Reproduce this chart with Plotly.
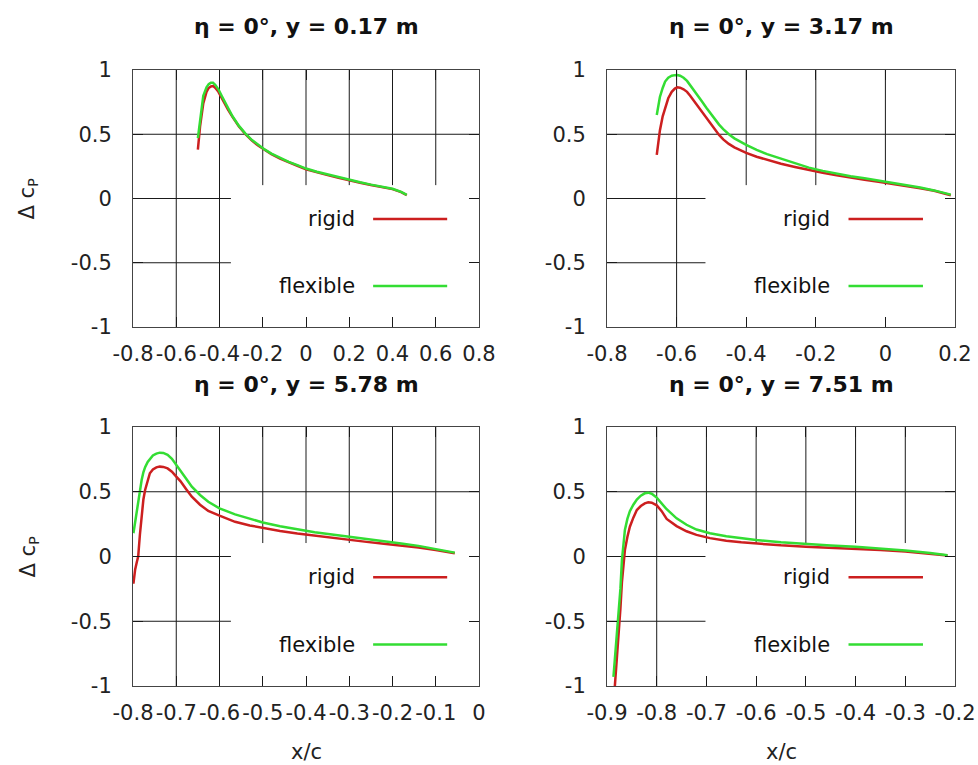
import plotly.graph_objects as go

# ---------------- data ----------------
titles = ["η = 0°, y = 0.17 m", "η = 0°, y = 3.17 m", "η = 0°, y = 5.78 m", "η = 0°, y = 7.51 m"]
series_names = ["rigid", "flexible"]

# panel 1 : y = 0.17 m
x_p1 = [-0.50, -0.49, -0.475, -0.46, -0.45, -0.44, -0.43, -0.42, -0.405, -0.39, -0.375, -0.36,
        -0.34, -0.31, -0.28, -0.25, -0.22, -0.19, -0.16, -0.12, -0.08, -0.04, 0.0, 0.05, 0.10,
        0.15, 0.20, 0.25, 0.30, 0.35, 0.40, 0.44, 0.466]
rigid_p1 = [0.38, 0.56, 0.74, 0.83, 0.86, 0.872, 0.875, 0.862, 0.83, 0.78, 0.735, 0.69,
            0.635, 0.56, 0.50, 0.45, 0.41, 0.375, 0.345, 0.31, 0.28, 0.255, 0.228, 0.203, 0.182,
            0.162, 0.14, 0.122, 0.105, 0.09, 0.073, 0.05, 0.027]
flexible_p1 = [0.47, 0.62, 0.80, 0.865, 0.89, 0.90, 0.90, 0.885, 0.85, 0.80, 0.75, 0.70,
               0.64, 0.565, 0.505, 0.455, 0.415, 0.38, 0.35, 0.315, 0.285, 0.26, 0.233, 0.208, 0.187,
               0.167, 0.144, 0.126, 0.108, 0.093, 0.076, 0.052, 0.028]

# panel 2 : y = 3.17 m
x_p2 = [-0.657, -0.648, -0.64, -0.633, -0.624, -0.614, -0.605, -0.598, -0.59, -0.58, -0.57,
        -0.561, -0.55, -0.54, -0.527, -0.514, -0.50, -0.49, -0.478, -0.466, -0.45, -0.434,
        -0.418, -0.40, -0.37, -0.34, -0.30, -0.26, -0.22, -0.18, -0.14, -0.10, -0.06, -0.02,
        0.02, 0.06, 0.10, 0.14, 0.17, 0.188]
rigid_p2 = [0.34, 0.53, 0.64, 0.71, 0.78, 0.83, 0.855, 0.865, 0.862, 0.85, 0.83,
            0.80, 0.76, 0.72, 0.67, 0.62, 0.57, 0.535, 0.495, 0.46, 0.425, 0.398,
            0.377, 0.355, 0.325, 0.30, 0.27, 0.245, 0.22, 0.20, 0.18, 0.16, 0.145, 0.13,
            0.115, 0.10, 0.08, 0.06, 0.04, 0.025]
flexible_p2 = [0.65, 0.79, 0.86, 0.91, 0.94, 0.955, 0.96, 0.961, 0.955, 0.94, 0.915,
               0.883, 0.845, 0.805, 0.755, 0.705, 0.655, 0.615, 0.575, 0.54, 0.50, 0.468,
               0.443, 0.418, 0.378, 0.345, 0.31, 0.275, 0.24, 0.215, 0.193, 0.173, 0.157, 0.14,
               0.123, 0.105, 0.085, 0.063, 0.045, 0.03]

# panel 3 : y = 5.78 m
x_p3 = [-0.799, -0.795, -0.791, -0.788, -0.784, -0.780, -0.776, -0.772, -0.766, -0.761, -0.754,
        -0.746, -0.738, -0.73, -0.72, -0.71, -0.703, -0.69, -0.677, -0.664, -0.645, -0.626,
        -0.60, -0.564, -0.53, -0.50, -0.46, -0.42, -0.38, -0.34, -0.30, -0.26, -0.22, -0.18,
        -0.14, -0.10, -0.075, -0.056]
rigid_p3 = [-0.21, -0.10, -0.04, 0.0, 0.17, 0.335, 0.44, 0.514, 0.59, 0.643, 0.672,
            0.688, 0.694, 0.692, 0.68, 0.655, 0.629, 0.58, 0.52, 0.462, 0.40, 0.352,
            0.315, 0.268, 0.24, 0.22, 0.197, 0.177, 0.16, 0.145, 0.128, 0.113, 0.099, 0.085,
            0.07, 0.05, 0.037, 0.025]
flexible_p3 = [0.18, 0.27, 0.35, 0.41, 0.50, 0.59, 0.65, 0.69, 0.73, 0.755, 0.78,
               0.795, 0.802, 0.80, 0.785, 0.755, 0.72, 0.66, 0.60, 0.539, 0.475, 0.423,
               0.372, 0.325, 0.29, 0.263, 0.233, 0.208, 0.187, 0.169, 0.153, 0.135, 0.117, 0.10,
               0.082, 0.06, 0.043, 0.03]

# panel 4 : y = 7.51 m
x_p4 = [-0.887, -0.884, -0.880, -0.877, -0.873, -0.870, -0.867, -0.864, -0.859, -0.854, -0.847,
        -0.840, -0.832, -0.824, -0.817, -0.81, -0.80, -0.79, -0.78, -0.76, -0.74, -0.72,
        -0.693, -0.66, -0.63, -0.60, -0.55, -0.50, -0.45, -0.40, -0.35, -0.30, -0.25, -0.215]
rigid_p4 = [-1.15, -1.0, -0.78, -0.6, -0.4, -0.2, -0.06, 0.05, 0.15, 0.23, 0.30,
            0.359, 0.39, 0.41, 0.418, 0.415, 0.395, 0.35, 0.29, 0.235, 0.195, 0.167,
            0.142, 0.122, 0.11, 0.10, 0.086, 0.076, 0.068, 0.062, 0.05, 0.038, 0.02, 0.007]
flexible_p4 = [-0.93, -0.78, -0.62, -0.465, -0.25, -0.03, 0.10, 0.205, 0.29, 0.35, 0.40,
               0.44, 0.47, 0.488, 0.493, 0.485, 0.455, 0.41, 0.365, 0.295, 0.245, 0.208,
               0.18, 0.156, 0.14, 0.127, 0.11, 0.095, 0.085, 0.076, 0.063, 0.047, 0.027, 0.01]

# axis ranges / ticks
x_ranges = [[-0.8, 0.8], [-0.8, 0.2], [-0.8, 0.0], [-0.9, -0.2]]
x_tickvals = [
    [-0.8, -0.6, -0.4, -0.2, 0.0, 0.2, 0.4, 0.6, 0.8],
    [-0.8, -0.6, -0.4, -0.2, 0.0, 0.2],
    [-0.8, -0.7, -0.6, -0.5, -0.4, -0.3, -0.2, -0.1, 0.0],
    [-0.9, -0.8, -0.7, -0.6, -0.5, -0.4, -0.3, -0.2],
]
x_ticktext = [
    ["-0.8", "-0.6", "-0.4", "-0.2", "0", "0.2", "0.4", "0.6", "0.8"],
    ["-0.8", "-0.6", "-0.4", "-0.2", "0", "0.2"],
    ["-0.8", "-0.7", "-0.6", "-0.5", "-0.4", "-0.3", "-0.2", "-0.1", "0"],
    ["-0.9", "-0.8", "-0.7", "-0.6", "-0.5", "-0.4", "-0.3", "-0.2"],
]
y_range = [-1, 1]
y_tickvals = [-1, -0.5, 0, 0.5, 1]
y_ticktext = ["-1", "-0.5", "0", "0.5", "1"]

y_label = "Δ c<sub>P</sub>"
x_label = "x/c"

# ---------------- styling ----------------
W, H = 978, 765
FONT = "DejaVu Sans"
TXT = "#222222"
RED = "#cc1f1f"
GREEN = "#33dd33"
GRID = "#1a1a1a"

# plot-area pixel boxes (left, right, top, bottom)
boxes = [(133, 479, 70, 327), (607, 955, 70, 327), (133, 479, 427, 686), (607, 955, 427, 686)]
# legend key box in axis-domain fractions (grid hidden behind it)
KEY_X0, KEY_X1, KEY_Y0, KEY_Y1 = 0.283, 0.966, 0.04, 0.552

xs = [x_p1, x_p2, x_p3, x_p4]
rigids = [rigid_p1, rigid_p2, rigid_p3, rigid_p4]
flexes = [flexible_p1, flexible_p2, flexible_p3, flexible_p4]

fig = go.Figure()
shapes = []
annotations = []

for i in range(4):
    n = "" if i == 0 else str(i + 1)
    xa, ya = "x" + n, "y" + n
    fig.add_trace(go.Scatter(x=xs[i], y=rigids[i], mode="lines", name=series_names[0],
                             line=dict(color=RED, width=2.5), xaxis=xa, yaxis=ya, showlegend=False))
    fig.add_trace(go.Scatter(x=xs[i], y=flexes[i], mode="lines", name=series_names[1],
                             line=dict(color=GREEN, width=2.5), xaxis=xa, yaxis=ya, showlegend=False))
    l, r, t, b = boxes[i]
    common = dict(showgrid=False, zeroline=False, automargin=False,
                  showline=True, linecolor="#444444", linewidth=1, mirror="allticks",
                  ticks="inside", ticklen=10, tickcolor=GRID, tickwidth=1,
                  tickfont=dict(family=FONT, size=21, color=TXT), tickangle=0)
    fig.layout["xaxis" + n] = dict(domain=[l / W, r / W], range=x_ranges[i], anchor=ya,
                                   tickmode="array", tickvals=x_tickvals[i], ticktext=x_ticktext[i],
                                   ticklabelstandoff=8, **common)
    fig.layout["yaxis" + n] = dict(domain=[1 - b / H, 1 - t / H], range=y_range, anchor=xa,
                                   tickmode="array", tickvals=y_tickvals, ticktext=y_ticktext,
                                   ticklabelstandoff=16, **common)
    xd, yd = xa + " domain", ya + " domain"
    x_lo, x_hi = x_ranges[i]
    # vertical grid lines (interrupted by legend key box)
    for v in x_tickvals[i]:
        frac = (v - x_lo) / (x_hi - x_lo)
        if frac <= 0.001 or frac >= 0.999:
            continue
        y_start = KEY_Y1 if KEY_X0 <= frac <= KEY_X1 else 0
        shapes.append(dict(type="line", xref=xa, yref=yd, x0=v, x1=v, y0=y_start, y1=1,
                           line=dict(color=GRID, width=1), layer="below"))
    # horizontal grid lines
    for v in y_tickvals:
        frac = (v - y_range[0]) / (y_range[1] - y_range[0])
        if frac <= 0.001 or frac >= 0.999:
            continue
        x_end = KEY_X0 if KEY_Y0 <= frac <= KEY_Y1 else 1
        shapes.append(dict(type="line", xref=xd, yref=ya, x0=0, x1=x_end, y0=v, y1=v,
                           line=dict(color=GRID, width=1), layer="below"))
    # legend entries
    for name, col, yy in ((series_names[0], RED, 0.42), (series_names[1], GREEN, 0.16)):
        annotations.append(dict(text=name, xref=xd, yref=yd, x=0.647, y=yy, xanchor="right",
                                yanchor="middle", showarrow=False,
                                font=dict(family=FONT, size=21, color="#111111")))
        shapes.append(dict(type="line", xref=xd, yref=yd, x0=0.694, x1=0.908, y0=yy, y1=yy,
                           line=dict(color=col, width=2.5), layer="above"))
    # title
    annotations.append(dict(text="<b>" + titles[i] + "</b>", xref="paper", yref="paper",
                            x=(l + r) / 2 / W, y=1 - (t - 43) / H, xanchor="center", yanchor="middle",
                            showarrow=False, font=dict(family=FONT, size=22, color="#111111")))
    if i in (0, 2):
        annotations.append(dict(text=y_label, xref="paper", yref="paper", x=28 / W,
                                y=1 - (t + b) / 2 / H, xanchor="center", yanchor="middle",
                                textangle=-90, showarrow=False,
                                font=dict(family=FONT, size=21, color=TXT)))
    if i in (2, 3):
        annotations.append(dict(text=x_label, xref="paper", yref="paper", x=(l + r) / 2 / W,
                                y=1 - 752 / H, xanchor="center", yanchor="middle", showarrow=False,
                                font=dict(family=FONT, size=21, color=TXT)))

fig.update_layout(width=W, height=H, margin=dict(l=0, r=0, t=0, b=0, pad=0, autoexpand=False),
                  paper_bgcolor="white", plot_bgcolor="white",
                  shapes=shapes, annotations=annotations, showlegend=False)

fig.write_html("out.html", config={"displayModeBar": False},
               post_script="document.body.style.margin='0';document.body.style.overflow='hidden';")
